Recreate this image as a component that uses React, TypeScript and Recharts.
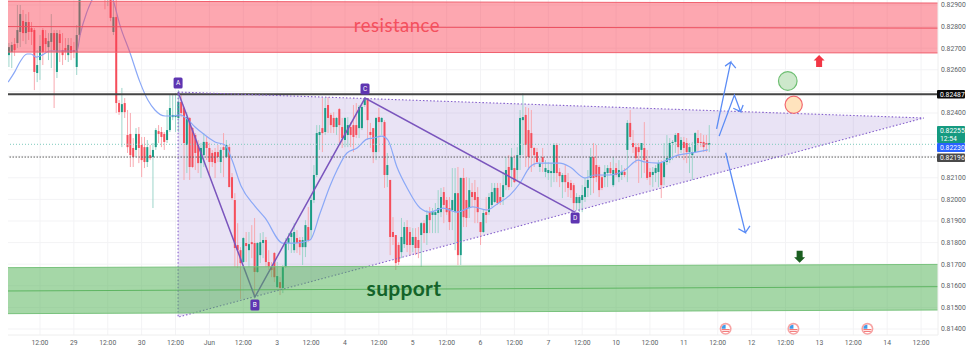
import {
  Area,
  Bar,
  CartesianGrid,
  ComposedChart,
  Line,
  ReferenceDot,
  ReferenceLine,
  XAxis,
  YAxis,
} from "recharts";

// hourly candles, prices in 1/100000 (index 0 = hour 1)
const opens = [
  82668, 82682, 82719, 82724, 82775, 82826, 82770, 82821, 82793, 82784,
  82585, 82645, 82784, 82747, 82705, 82729, 82770, 82590, 82766, 82691,
  82701, 82668, 82710, 82691, 82613, 82761,
  82970, 83060, 83120, 83080, 83030, 83090, 83060, 83010, 82980, 82950,
  82950, 82775, 82844,
  82446, 82404, 82446, 82298, 82303, 82238, 82229, 82303, 82252, 82242, 82173,
  82205, 82196, 82242, 82316, 82312, 82303, 82275, 82321, 82381, 82381,
  82377, 82451, 82423, 82252, 82377, 82330, 82298, 82252, 82168, 82205,
  82266, 82238, 82215, 82219, 82219, 82173, 82242, 82196, 82242, 82103,
  81997, 81789, 81765, 81710, 81798, 81765, 81802, 81798, 81664, 81742,
  81798, 81812, 81710, 81687, 81752, 81594, 81617, 81590, 81687, 81798,
  81826, 81765, 81821, 81812, 81779, 81779, 81872, 81858, 81997, 82113,
  82298, 82330, 82312, 82437, 82391, 82377, 82335, 82418, 82335, 82275,
  82298, 82335, 82344, 82344, 82330, 82330, 82437, 82469, 82312, 82330,
  82219, 82381, 82358, 82358, 82113, 82090, 81849, 81835, 81789, 81756,
  81793, 81872, 81849, 81789, 81826, 81812, 81835, 81890, 81844, 81941,
  81928, 81928, 81937, 81941, 82034, 81997, 81960, 81951, 81941, 82029,
  81742, 82099, 81997, 81960, 82034, 82034, 82011, 81895, 81849, 81941,
  81941, 81974, 81988, 82053, 82011, 82011, 82066, 82150, 82136, 82145,
  82136, 82205, 82367, 82391, 82321, 82307, 82238, 82219, 82150, 82196,
  82127, 82122, 82122, 82122, 82252, 82127, 82080, 82113, 82080, 82076,
  82066, 81983, 81983, 81997, 82011, 82053, 82099, 82196, 82159, 82150,
  82103, 82103, 82122, 82145, 82066, 82145, 82103, 82113, 82127, 82229,
  82354, 82261, 82242, 82242, 82229, 82238, 82182, 82127, 82113, 82122,
  82127, 82168, 82103, 82173, 82182, 82261, 82266, 82307, 82229, 82266,
  82261, 82219, 82205, 82219, 82284, 82266, 82266, 82261, 82252,
];
const highs = [
  82724, 82729, 82747, 82900, 82900, 82877, 82858, 82867, 82821, 82793,
  82691, 82761, 82793, 82784, 82770, 82858, 82784, 82784, 82784, 82770,
  82747, 82747, 82747, 82729, 82807, 83150,
  83100, 83180, 83200, 83160, 83110, 83170, 83120, 83070, 83040, 83010,
  83000, 82950, 82930,
  82460, 82516, 82469, 82414, 82400, 82284, 82330, 82335, 82289, 82289, 82275,
  82252, 82261, 82330, 82344, 82335, 82312, 82414, 82483, 82483, 82492,
  82506, 82483, 82428, 82404, 82381, 82335, 82307, 82275, 82261, 82307,
  82289, 82261, 82229, 82238, 82252, 82242, 82307, 82275, 82252, 82122,
  82029, 81890, 81779, 81826, 81849, 81849, 81881, 81914, 81802, 81844,
  81849, 81826, 81765, 81710, 81756, 81710, 81640, 81696, 81821, 81844,
  81858, 81890, 81858, 81826, 81826, 81904, 81965, 82011, 82159, 82344,
  82344, 82469, 82469, 82474, 82400, 82404, 82381, 82423, 82377, 82381,
  82381, 82358, 82437, 82446, 82437, 82437, 82474, 82469, 82354, 82330,
  82381, 82423, 82381, 82367, 82215, 82090, 81918, 81835, 81802, 81914,
  81895, 81904, 81872, 81867, 81867, 81872, 81895, 81904, 81951, 81965,
  81960, 81983, 82043, 82053, 82057, 82011, 82011, 82145, 82145, 82150,
  82103, 82145, 82103, 82099, 82076, 82090, 82057, 81895, 81951, 82011,
  82029, 82076, 82076, 82076, 82076, 82127, 82196, 82205, 82238, 82205,
  82242, 82414, 82492, 82428, 82423, 82414, 82242, 82238, 82191, 82238,
  82182, 82173, 82168, 82261, 82261, 82145, 82122, 82159, 82122, 82090,
  82076, 82029, 82020, 82066, 82103, 82136, 82238, 82261, 82252, 82159,
  82113, 82159, 82159, 82173, 82196, 82168, 82182, 82159, 82145, 82367,
  82414, 82321, 82261, 82261, 82261, 82358, 82229, 82145, 82150, 82159,
  82182, 82182, 82261, 82298, 82284, 82275, 82307, 82307, 82289, 82289,
  82284, 82261, 82266, 82312, 82321, 82307, 82298, 82298, 82344,
];
const lows = [
  82613, 82608, 82664, 82701, 82705, 82733, 82719, 82738, 82715, 82506,
  82543, 82553, 82622, 82682, 82645, 82608, 82423, 82562, 82636, 82622,
  82645, 82636, 82645, 82654, 82576, 82752,
  82945, 83020, 83060, 83000, 82980, 83040, 82990, 82950, 82880, 82895,
  82825, 82761, 82400,
  82391, 82242, 82377, 82215, 82150, 82150, 82196, 82168, 82103, 82145, 82150,
  82182, 81960, 82229, 82261, 82242, 82229, 82261, 82312, 82367, 82312,
  82312, 82381, 82090, 82122, 82090, 82145, 82136, 82122, 82099, 82150,
  82182, 82103, 82150, 82099, 82173, 82122, 82103, 82191, 82057, 81997,
  81687, 81682, 81539, 81705, 81710, 81687, 81728, 81548, 81659, 81705,
  81728, 81687, 81673, 81640, 81617, 81590, 81557, 81566, 81682, 81765,
  81752, 81752, 81752, 81742, 81696, 81733, 81802, 81821, 81983, 82103,
  82229, 82219, 82298, 82307, 82307, 82307, 82298, 82261, 82238, 82242,
  82242, 82242, 82219, 82284, 82284, 82321, 82428, 82275, 82238, 82168,
  82182, 82219, 82298, 82053, 82057, 81742, 81789, 81673, 81696, 81728,
  81775, 81756, 81742, 81756, 81742, 81728, 81687, 81798, 81789, 81844,
  81844, 81844, 81844, 81918, 81890, 81928, 81858, 81858, 81765, 81696,
  81696, 81872, 81872, 81914, 81965, 81890, 81890, 81789, 81844, 81890,
  81928, 81965, 81983, 81974, 81974, 81974, 82043, 82043, 82057, 82076,
  82090, 82136, 82205, 82150, 82136, 82127, 82150, 82168, 82127, 82127,
  82103, 82090, 82057, 82080, 82080, 82057, 82006, 82034, 82011, 82006,
  81951, 81951, 81941, 81941, 81988, 82011, 82020, 82029, 82080, 82011,
  82043, 82057, 82057, 82113, 82057, 82103, 82080, 82090, 82103, 82080,
  82275, 82215, 82168, 82076, 82099, 82122, 82090, 82066, 82057, 82080,
  82057, 82006, 82066, 82159, 82168, 82182, 82215, 82196, 82215, 82182,
  82168, 82122, 82090, 82215, 82219, 82242, 82219, 82219, 82219,
];
const closes = [
  82705, 82715, 82691, 82784, 82858, 82770, 82821, 82775, 82775, 82590,
  82622, 82710, 82682, 82719, 82733, 82770, 82691, 82770, 82724, 82668,
  82682, 82715, 82678, 82682, 82761, 82970,
  83060, 83120, 83080, 83030, 83090, 83060, 83010, 82980, 82950, 82960,
  82840, 82844, 82446,
  82404, 82441, 82404, 82242, 82205, 82196, 82303, 82238, 82182, 82173, 82242,
  82191, 82229, 82321, 82303, 82289, 82266, 82321, 82423, 82391, 82391,
  82451, 82400, 82261, 82381, 82150, 82150, 82215, 82168, 82238, 82266,
  82238, 82173, 82173, 82168, 82196, 82229, 82229, 82252, 82057, 82006,
  81775, 81765, 81705, 81821, 81784, 81793, 81793, 81664, 81798, 81802,
  81812, 81710, 81687, 81673, 81640, 81645, 81590, 81687, 81802, 81821,
  81844, 81849, 81798, 81779, 81812, 81881, 81812, 81997, 82113, 82307,
  82312, 82307, 82423, 82377, 82344, 82335, 82377, 82344, 82284, 82377,
  82344, 82298, 82289, 82298, 82428, 82428, 82469, 82367, 82298, 82219,
  82377, 82358, 82377, 82113, 82159, 81826, 81826, 81705, 81710, 81826,
  81872, 81789, 81789, 81826, 81775, 81775, 81890, 81844, 81928, 81904,
  81941, 81941, 81960, 82011, 81974, 81941, 81895, 81997, 82029, 81742,
  82099, 81918, 81914, 82043, 82011, 81997, 81941, 81849, 81937, 81928,
  82011, 82034, 82053, 81983, 81988, 82066, 82136, 82057, 82196, 82080,
  82205, 82377, 82381, 82252, 82196, 82238, 82205, 82173, 82168, 82173,
  82145, 82136, 82131, 82252, 82122, 82108, 82113, 82080, 82053, 82043,
  81983, 82011, 82011, 82020, 82057, 82090, 82196, 82099, 82103, 82043,
  82053, 82127, 82145, 82122, 82136, 82113, 82136, 82127, 82113, 82354,
  82289, 82242, 82191, 82219, 82261, 82182, 82099, 82103, 82127, 82145,
  82168, 82066, 82173, 82191, 82261, 82266, 82298, 82242, 82275, 82238,
  82219, 82242, 82219, 82307, 82261, 82261, 82242, 82252, 82261,
];

// moving average, read at its bends
const maHours = [
  0.7, 3.2, 4.9, 7.4, 8.8, 10.6, 12.7, 15.5, 19.1, 25.1, 26.2, 28.6, 30.4, 34,
  37.9, 40.3, 43.9, 47.4, 50.2, 52.7, 56.3, 58.7, 61.6, 63.7, 66.9, 70.4, 74,
  77.5, 80, 83.2, 88.1, 91.7, 98, 102.3, 107.6, 111.2, 114.7, 117.2, 120.7,
  124.3, 127.8, 129.9, 133.1, 135.2, 138.4, 142, 146.6, 150.1, 154.7, 159.7,
  165.3, 170.3, 173.8, 178.4, 182, 185.5, 188.4, 192.6, 196.1, 199.7, 205,
  208.5, 213.8, 219.2, 223.8, 226.2, 230.9, 234, 237.9, 242.9, 248.5,
];
const maPrices = [
  82543, 82594, 82636, 82673, 82673, 82659, 82668, 82687, 82687, 82687, 82761,
  82867, 82923, 83016, 82923, 82807, 82678, 82543, 82460, 82414, 82386, 82386,
  82391, 82377, 82335, 82298, 82266, 82252, 82182, 82062, 81969, 81914, 81798,
  81798, 81812, 81937, 82062, 82136, 82215, 82238, 82279, 82284, 82293, 82275,
  82150, 82053, 81960, 81941, 81960, 81941, 81965, 81951, 81978, 82020, 82076,
  82150, 82168, 82168, 82168, 82150, 82099, 82113, 82113, 82136, 82182, 82173,
  82168, 82182, 82205, 82215, 82229,
];

const tickHours = [
  12, 24, 36, 48, 60, 72, 84, 96, 108, 120, 132, 144, 156, 168, 180, 192, 204,
  216, 228, 240, 252, 264, 276, 288, 300, 312, 324,
];
const tickLabels = [
  "12:00", "29", "12:00", "30", "12:00", "Jun", "12:00", "3", "12:00", "4",
  "12:00", "5", "12:00", "6", "12:00", "7", "12:00", "10", "12:00", "11",
  "12:00", "12", "12:00", "13", "12:00", "14", "12:00",
];
const gridPrices = [
  0.829, 0.828, 0.827, 0.826, 0.825, 0.824, 0.823, 0.822, 0.821, 0.82, 0.819,
  0.818, 0.817, 0.816, 0.815, 0.814,
];
const hiddenGridTicks = [0.825, 0.823, 0.822];

const LAST_PRICE = 0.82255;
const RESISTANCE_LINE = 0.82487;
const PREV_CLOSE = 0.82196;

const priceTags = [
  { value: RESISTANCE_LINE, label: "0.82487", sub: "", fill: "#0b0b0b", dy: 0, h: 8.5 },
  { value: LAST_PRICE, label: "0.82255", sub: "12:54", fill: "#159a80", dy: -9.7, h: 17 },
  { value: 0.8223, label: "0.82230", sub: "", fill: "#2962ff", dy: -2.2, h: 8.8 },
  { value: PREV_CLOSE, label: "0.82196", sub: "", fill: "#4a4a4a", dy: 0.7, h: 8.6 },
];

const HOUR_MIN = 0.67;
const HOUR_MAX = 330;
const PRICE_MIN = 0.813722;
const PRICE_MAX = 0.829231;

const candles = opens.map((open, i) => ({
  hour: i + 1,
  open: open / 1e5,
  high: highs[i] / 1e5,
  low: lows[i] / 1e5,
  close: closes[i] / 1e5,
  range: [lows[i] / 1e5, highs[i] / 1e5],
}));

const path = (rows: number[][]) =>
  rows.map(([hour, price]) => ({ hour, price: price / 1e5 }));
const band = (rows: number[][]) =>
  rows.map(([hour, low, high]) => ({ hour, band: [low / 1e5, high / 1e5] }));

const maLine = maHours.map((hour, i) => ({ hour, price: maPrices[i] / 1e5 }));

const redZone = band([[HOUR_MIN, 82682, 82918], [HOUR_MAX, 82678, 82909]]);
const redMid = path([[HOUR_MIN, 82800], [HOUR_MAX, 82793]]);
const greenZone = band([[HOUR_MIN, 81471, 81684], [HOUR_MAX, 81488, 81699]]);
const greenMid = path([[HOUR_MIN, 81576], [HOUR_MAX, 81596]]);

const triangleFill = band([[60.9, 81455, 82497], [325, 82377, 82377]]);
const triangleEdge = path([[60.9, 82497], [325, 82377], [60.9, 81455], [60.9, 82497]]);
const abcd = path([[60.9, 82497], [88.1, 81548], [127.1, 82469], [201.4, 81941]]);

const arrowUp = path([[251.6, 82326], [256.6, 82636], [254.6, 82617], [256.6, 82636], [258.4, 82608]]);
const arrowBounce = path([[252.5, 82293], [257.9, 82483], [260.1, 82406], [257.5, 82422], [260.1, 82406], [261, 82437]]);
const arrowDown = path([[254.8, 82216], [261.8, 81846], [259.3, 81864], [261.8, 81846], [263.4, 81877]]);

const patternLabels = [
  { text: "A", hour: 60.9, price: 0.82539 },
  { text: "B", hour: 88.1, price: 0.81511 },
  { text: "C", hour: 127.1, price: 0.82511 },
  { text: "D", hour: 201.5, price: 0.81914 },
];
const flagHours = [254.8, 278.8, 305];
const FLAG_PRICE = 0.81401;

const UP_COLOR = "#1b9c86";
const DOWN_COLOR = "#f54e5b";
const UP_WICK = "#9ed5cb";
const DOWN_WICK = "#f8a9b0";
const BODY_WIDTH = 2;

const CandleShape = (props: any) => {
  const { x, y, width, height, payload } = props;
  const top = Math.min(y, y + height);
  const center = x + width / 2;
  const scale = Math.abs(height) / (payload.high - payload.low);
  const openY = top + (payload.high - payload.open) * scale;
  const closeY = top + (payload.high - payload.close) * scale;
  const up = payload.close >= payload.open;
  return (
    <g>
      <rect
        x={center - 0.5}
        y={top}
        width={1}
        height={Math.abs(height)}
        fill={up ? UP_WICK : DOWN_WICK}
      />
      <rect
        x={center - BODY_WIDTH / 2}
        y={Math.min(openY, closeY)}
        width={BODY_WIDTH}
        height={Math.max(Math.abs(openY - closeY), 1)}
        fill={up ? UP_COLOR : DOWN_COLOR}
      />
    </g>
  );
};

const PriceTick = (props: any) => {
  const { x, y, payload } = props;
  const tag = priceTags.find((t) => t.value === payload.value);
  if (tag) {
    const cy = y + tag.dy;
    return (
      <g fontFamily="Roboto" fontSize={6.8} fill="#fff">
        <rect x={x - 3} y={cy - tag.h / 2} width={28} height={tag.h} rx={1} fill={tag.fill} />
        <text x={x} y={tag.sub ? cy - 1.5 : cy + 2.4}>{tag.label}</text>
        {tag.sub && <text x={x} y={cy + 6.5}>{tag.sub}</text>}
      </g>
    );
  }
  return (
    <text x={x + 1} y={y + 2.4} fontFamily="Roboto" fontSize={6.8} fill="#5c5f66">
      {payload.value.toFixed(5)}
    </text>
  );
};

const TimeTick = (props: any) => {
  const { x, y, payload } = props;
  return (
    <text x={x} y={y + 1.5} textAnchor="middle" fontFamily="Roboto" fontSize={6.8} fill="#5c5f66">
      {tickLabels[tickHours.indexOf(payload.value)]}
    </text>
  );
};

const PatternLabel = (text: string) => (props: any) => (
  <g>
    <rect x={props.cx - 4.5} y={props.cy - 5.5} width={9} height={11} rx={1.5} fill="#5e35b1" />
    <text x={props.cx} y={props.cy + 2.4} textAnchor="middle" fontFamily="Roboto" fontSize={6.5} fill="#fff">
      {text}
    </text>
  </g>
);

const UsFlag = (props: any) => (
  <g>
    <circle cx={props.cx} cy={props.cy} r={6} fill="#f7a3a3" />
    <circle cx={props.cx} cy={props.cy} r={4.4} fill="#fff" />
    <path d={`M${props.cx - 4} ${props.cy + 0.8}h8M${props.cx - 3.4} ${props.cy + 2.6}h6.8`} stroke="#f26d6d" strokeWidth={1} />
    <path d={`M${props.cx - 4} ${props.cy}a4 4 0 0 1 4 -4v4z`} fill="#3f9bea" />
  </g>
);

const BlockArrow = (fill: string, up: boolean) => (props: any) => {
  const { cx, cy } = props;
  const s = up ? 1 : -1;
  return (
    <polygon
      fill={fill}
      points={[
        [0, -6], [5.5, -0.5], [3, -0.5], [3, 6], [-3, 6], [-3, -0.5], [-5.5, -0.5],
      ].map(([dx, dy]) => `${cx + dx},${cy + dy * s}`).join(" ")}
    />
  );
};

const ChartText = (text: string, fill: string, weight: number, size: number, spacing: number) => (props: any) => (
  <text
    x={props.cx}
    y={props.cy + size * 0.3}
    textAnchor="middle"
    fontFamily="Lato"
    fontWeight={weight}
    fontSize={size}
    letterSpacing={spacing}
    fill={fill}
  >
    {text}
  </text>
);

const Ring = (fill: string, stroke: string, r: number) => (props: any) => (
  <circle cx={props.cx} cy={props.cy} r={r} fill={fill} stroke={stroke} strokeWidth={1.2} />
);

export default function App() {
  return (
    <div style={{ position: "absolute", left: 0, top: 0, background: "#fff" }}>
      <ComposedChart
        width={974}
        height={352}
        data={candles}
        margin={{ top: 0, right: 0, bottom: 0, left: 8 }}
      >
        <CartesianGrid
          stroke="#f3f3f5"
          verticalValues={tickHours}
          horizontalValues={gridPrices}
        />
        <XAxis
          dataKey="hour"
          type="number"
          domain={[HOUR_MIN, HOUR_MAX]}
          allowDataOverflow
          ticks={tickHours}
          interval={0}
          height={17}
          tick={<TimeTick />}
          tickLine={false}
          axisLine={{ stroke: "#eeeeee" }}
        />
        <YAxis
          orientation="right"
          type="number"
          domain={[PRICE_MIN, PRICE_MAX]}
          allowDataOverflow
          width={36}
          ticks={[
            ...gridPrices.filter((p) => !hiddenGridTicks.includes(p)),
            ...priceTags.map((t) => t.value),
          ]}
          interval={0}
          tick={<PriceTick />}
          tickLine={false}
          tickSize={0}
          axisLine={{ stroke: "#eeeeee" }}
        />

        <Area
          data={triangleFill}
          dataKey="band"
          type="linear"
          stroke="none"
          fill="#7e57c2"
          fillOpacity={0.17}
          dot={false}
          isAnimationActive={false}
        />
        <ReferenceLine y={LAST_PRICE} stroke="#7fcabd" strokeDasharray="1 2" />
        <ReferenceLine y={PREV_CLOSE} stroke="#5f5f5f" strokeDasharray="1.5 1.5" />

        <Bar
          dataKey="range"
          barSize={2}
          shape={<CandleShape />}
          isAnimationActive={false}
        />
        <Line
          data={maLine}
          dataKey="price"
          type="monotone"
          stroke="#8aa8f7"
          strokeWidth={1.2}
          dot={false}
          isAnimationActive={false}
        />

        <Area
          data={redZone}
          dataKey="band"
          type="linear"
          stroke="#f0606e"
          strokeWidth={1}
          fill="#fb3c50"
          fillOpacity={0.45}
          dot={false}
          isAnimationActive={false}
          zIndex={450}
        />
        <Line data={redMid} dataKey="price" stroke="#e0606c" strokeWidth={1} dot={false} isAnimationActive={false} />
        <Area
          data={greenZone}
          dataKey="band"
          type="linear"
          stroke="#79c27d"
          strokeWidth={1}
          fill="#4caf50"
          fillOpacity={0.5}
          dot={false}
          isAnimationActive={false}
          zIndex={450}
        />
        <Line data={greenMid} dataKey="price" stroke="#6fb973" strokeWidth={1} dot={false} isAnimationActive={false} />

        <ReferenceLine y={RESISTANCE_LINE} stroke="#454545" strokeWidth={2} />

        <Line
          data={triangleEdge}
          dataKey="price"
          stroke="#8560cc"
          strokeWidth={1.1}
          strokeDasharray="1.5 2"
          dot={false}
          isAnimationActive={false}
        />
        <Line data={abcd} dataKey="price" stroke="#7a55bd" strokeWidth={1.5} dot={false} isAnimationActive={false} />
        <Line data={arrowUp} dataKey="price" stroke="#5b8cf5" strokeWidth={1.3} dot={false} isAnimationActive={false} />
        <Line data={arrowBounce} dataKey="price" stroke="#5b8cf5" strokeWidth={1.3} dot={false} isAnimationActive={false} />
        <Line data={arrowDown} dataKey="price" stroke="#5b8cf5" strokeWidth={1.3} dot={false} isAnimationActive={false} />

        {patternLabels.map((l) => (
          <ReferenceDot key={l.text} x={l.hour} y={l.price} r={5} shape={PatternLabel(l.text)} />
        ))}
        {flagHours.map((h) => (
          <ReferenceDot key={h} x={h} y={FLAG_PRICE} r={6} shape={UsFlag} />
        ))}
        <ReferenceDot x={276.8} y={0.82548} r={9} shape={Ring("#cde8cb", "#6fbf73", 9.3)} />
        <ReferenceDot x={278.9} y={0.82438} r={9} shape={Ring("#ffe3bd", "#f2676f", 8.6)} />
        <ReferenceDot x={287.9} y={0.82641} r={6} shape={BlockArrow("#f23645", true)} />
        <ReferenceDot x={281} y={0.81734} r={6} shape={BlockArrow("#1b5e20", false)} />
        <ReferenceDot x={138.4} y={0.828} r={5} shape={ChartText("resistance", "#f4505e", 400, 18.5, 0.5)} />
        <ReferenceDot x={140.9} y={0.8158} r={5} shape={ChartText("support", "#14632a", 700, 21, 0.3)} />
      </ComposedChart>
    </div>
  );
}
